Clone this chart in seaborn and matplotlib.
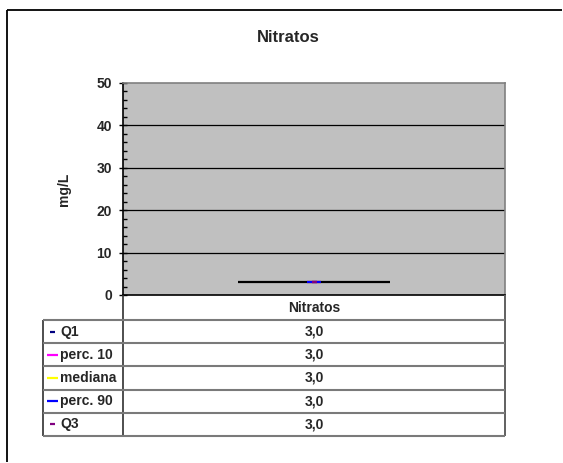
import matplotlib
matplotlib.use("Agg")
import matplotlib.pyplot as plt
from matplotlib.lines import Line2D
from matplotlib.ticker import MultipleLocator
import pandas as pd
import seaborn as sns

# ---- data -------------------------------------------------------------
parameter = "Nitratos"
stat_labels = ["Q1", "perc. 10", "mediana", "perc. 90", "Q3"]
stat_values = [3.0, 3.0, 3.0, 3.0, 3.0]
stat_colors = ["#000080", "#FF00FF", "#FFFF00", "#0000FF", "#800080"]
y_ticks = [0, 10, 20, 30, 40, 50]
y_label = "mg/L"
title = "Nitratos"

df = pd.DataFrame({"parametro": parameter,
                   "estadistico": stat_labels,
                   "valor": stat_values,
                   "color": stat_colors})

# ---- style ------------------------------------------------------------
sns.set_theme(style="white")
plt.rcParams["font.family"] = ["Liberation Sans", "DejaVu Sans"]
plt.rcParams["font.weight"] = "bold"
plt.rcParams["font.size"] = 10

W, H = 563, 463
fig = plt.figure(figsize=(W / 100, H / 100), dpi=100)
fig.patch.set_facecolor("white")
fig.patch.set_edgecolor("white")
fig.patch.set_linewidth(0)


def fx(px):
    return px / W


def fy(py):
    return 1 - py / H


def fig_line(x0, y0, x1, y1, color, lw):
    fig.add_artist(Line2D([fx(x0), fx(x1)], [fy(y0), fy(y1)],
                          transform=fig.transFigure, color=color,
                          linewidth=lw, solid_capstyle="butt"))


# outer chart frame (open towards the right and bottom edges)
fig_line(7, 10, W - 1.5, 10, "black", 1.3)
fig_line(7, 10, 7, H - 1.5, "black", 1.3)

# plot area
L, R, T, B = 123, 505, 83, 295
ax = fig.add_axes([fx(L), fy(B), fx(R) - fx(L), fy(T) - fy(B)])
ax.set_facecolor("#C0C0C0")

# collapsed box (Q1 .. Q3)
q1 = df.loc[df.estadistico == "Q1", "valor"].iloc[0]
q3 = df.loc[df.estadistico == "Q3", "valor"].iloc[0]
ax.bar(0, q3 - q1, bottom=q1, width=0.4, facecolor="none",
       edgecolor="black", linewidth=1.6, zorder=3)

# statistic markers
widths = {"Q1": 3.6, "perc. 10": 10, "mediana": 10, "perc. 90": 10, "Q3": 3.6}
for _, row in df.iterrows():
    sns.scatterplot(x=[0], y=[row.valor], marker="_",
                    s=widths[row.estadistico] ** 2, color=row.color,
                    linewidth=1.6, ax=ax, zorder=4, legend=False)

ax.set_xlim(-0.5, 0.5)
ax.set_ylim(0, 50)
ax.set_yticks(y_ticks)
ax.set_yticklabels([str(t) for t in y_ticks], fontweight="bold", fontsize=10)
ax.yaxis.set_minor_locator(MultipleLocator(2))
ax.tick_params(axis="y", which="major", direction="inout", length=6,
               width=1, color="black", pad=5, left=True)
ax.tick_params(axis="y", which="minor", direction="in", length=3,
               width=1, color="black", left=True)
ax.set_xticks([])
ax.grid(False)
for t in y_ticks[1:-1]:
    ax.axhline(t, color="black", linewidth=0.9, zorder=1)

ax.spines["left"].set_color("black")
ax.spines["bottom"].set_color("black")
ax.spines["top"].set_color("#808080")
ax.spines["right"].set_color("#808080")
for s in ax.spines.values():
    s.set_linewidth(1.2)

ax.set_ylabel(y_label, fontweight="bold", fontsize=10)
ax.yaxis.set_label_coords((71 - L) / (R - L), 0.5)

fig.text(fx(288), fy(38), title, ha="center", va="center",
         fontsize=12, fontweight="bold")

# ---- data table -------------------------------------------------------
TL = 43
head_bot = 320
tab_bot = 436
row_h = (tab_bot - head_bot) / len(stat_labels)
grid_c = "#7A7A7A"

fig.text(fx((L + R) / 2), fy((B + head_bot) / 2), parameter,
         ha="center", va="center", fontsize=10, fontweight="bold")

fig_line(L, B, L, tab_bot, "#303030", 1.2)
fig_line(R, B, R, tab_bot, "#606060", 1.4)
fig_line(TL, head_bot, TL, tab_bot, "#303030", 1.2)
fig_line(TL, head_bot, R, head_bot, grid_c, 1.5)
for i in range(len(stat_labels)):
    y1 = head_bot + (i + 1) * row_h
    fig_line(TL, y1, R, y1, grid_c, 1.5)

key_half = {"Q1": 2.5, "perc. 10": 5, "mediana": 5, "perc. 90": 5, "Q3": 2.5}
for i, row in df.iterrows():
    yc = head_bot + (i + 0.5) * row_h
    k = key_half[row.estadistico]
    fig_line(52.5 - k, yc, 52.5 + k, yc, row.color, 1.6)
    fig.text(fx(60), fy(yc), row.estadistico, ha="left", va="center",
             fontsize=10, fontweight="bold")
    fig.text(fx((L + R) / 2), fy(yc), f"{row.valor:.1f}".replace(".", ","),
             ha="center", va="center", fontsize=10, fontweight="bold")

fig.savefig("out.png", dpi=100)
